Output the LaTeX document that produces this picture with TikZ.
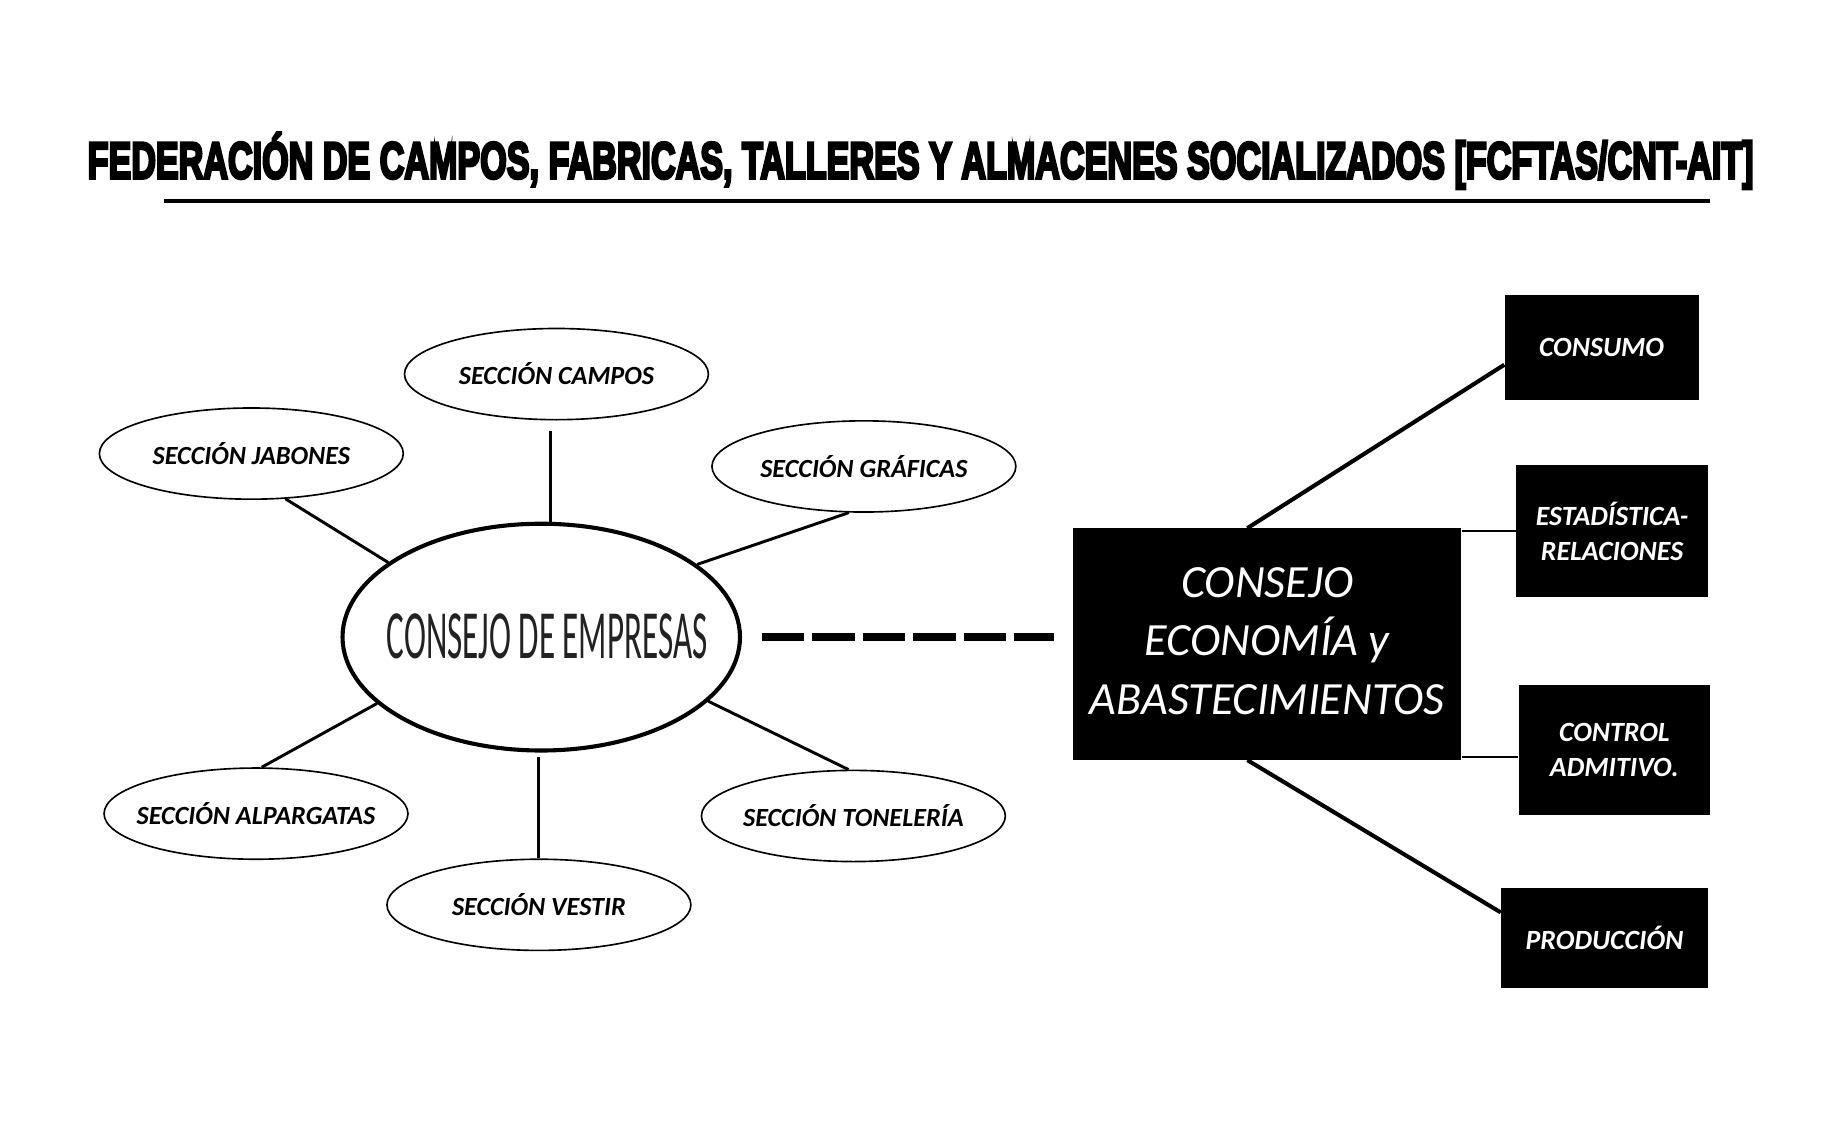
\documentclass[tikz,border=0pt]{standalone}
\usepackage{fontspec}
\usepackage{graphicx}
\setmainfont{Carlito}
\newfontfamily\titlefont{Liberation Sans Bold}[FakeBold=6]
\usetikzlibrary{shapes.geometric,calc}
\newcommand{\zw}[1]{\makebox[0pt]{#1}}
\tikzset{
  seccion/.style={ellipse, draw, line width=1.4pt, minimum width=260pt, minimum height=78pt,
    inner sep=0pt, font=\fontsize{22.4}{26}\selectfont\bfseries\itshape},
  consejo/.style={ellipse, draw, line width=3.5pt, minimum width=340pt, minimum height=194pt, inner sep=0pt},
  mainbox/.style={rectangle, fill=black, text=white, minimum width=332pt, minimum height=198pt,
    inner sep=0pt, align=center, font=\fontsize{39.5}{50}\selectfont\itshape},
  sidebox/.style={rectangle, fill=black, text=white, inner sep=0pt, align=center,
    font=\fontsize{23.8}{29.5}\selectfont\bfseries\itshape},
  spoke/.style={line width=2.5pt},
  thinlink/.style={line width=2pt},
  thicklink/.style={line width=3.5pt},
  dashlink/.style={line width=6.3pt, dash pattern=on 36.3pt off 6.9pt}
}
\begin{document}
\begin{tikzpicture}[x=1pt,y=-1pt]
\useasboundingbox[fill=white] (0,0) rectangle (1568,970.06);
% title
\node[anchor=base, inner sep=0pt, font=\titlefont\fontsize{44}{44}\selectfont] (title) at (787.5,152.5)
  {\resizebox{1425pt}{\height}{FEDERACIÓN DE CAMPOS, FABRICAS, TALLERES Y ALMACENES SOCIALIZADOS [FCFTAS/CNT-AIT]}};
\coordinate (ulA) at (140,172);
\coordinate (ulB) at (1463,172);
\draw[line width=3.5pt] (ulA) -- (ulB);
% centre
\node[consejo] (ce) at (463,545) {\zw{\kern10pt\textcolor[HTML]{222222}{\raisebox{2pt}{\scalebox{0.48}[1]{\fontsize{59}{59}\selectfont CONSEJO DE EMPRESAS}}}}};
\node[seccion] (cam) at (476,320) {\zw{SECCIÓN CAMPOS}};
\node[seccion] (jab) at (215,388) {\zw{SECCIÓN JABONES}};
\node[seccion] (gra) at (739,399) {\zw{SECCIÓN GRÁFICAS}};
\node[seccion] (alp) at (219,696) {\zw{SECCIÓN ALPARGATAS}};
\node[seccion] (ves) at (461,774) {\zw{SECCIÓN VESTIR}};
\node[seccion] (ton) at (730,698) {\zw{SECCIÓN TONELERÍA}};
\draw[spoke] ([xshift=-5pt,yshift=-9pt]cam.south) -- ([xshift=-5pt]cam.south |- ce.north);
\draw[spoke] (jab.-53) -- (ce.154);
\draw[spoke] (gra.-108) -- (ce.25);
\draw[spoke] (ce.202) -- (alp.83);
\draw[spoke] ([yshift=-4pt]ves.north |- ce.south) -- (ves.north);
\draw[spoke] (ce.-21) -- (ton.96);
% right side
\node[mainbox] (main) at (1084,551) {\begin{tabular}{@{}c@{}}CONSEJO\\ECONOMÍA y\\ABASTECIMIENTOS\end{tabular}};
\node[sidebox, minimum width=166pt, minimum height=90pt] (con) at (1370,297) {CONSUMO};
\node[sidebox, minimum width=164pt, minimum height=113pt] (est) at (1379,454.5) {ESTADÍSTICA-\\RELACIONES};
\node[sidebox, minimum width=164pt, minimum height=111pt] (ctl) at (1381,641.5) {CONTROL\\ADMITIVO.};
\node[sidebox, minimum width=177pt, minimum height=85pt] (pro) at (1372.5,802.5) {PRODUCCIÓN};
\draw[dashlink] ([xshift=17pt]ce.east) -- ([xshift=-16pt]main.west |- ce.east);
\draw[thicklink] ([xshift=-17pt]main.north) -- ([yshift=-15pt]con.west);
\draw[thinlink] (est.west -| main.east) -- (est.west);
\draw[thinlink] ([yshift=-6pt]ctl.west -| main.east) -- ([yshift=-6pt]ctl.west);
\draw[thicklink] ([xshift=-17pt]main.south) -- ([yshift=22pt]pro.west);
\end{tikzpicture}
\end{document}
